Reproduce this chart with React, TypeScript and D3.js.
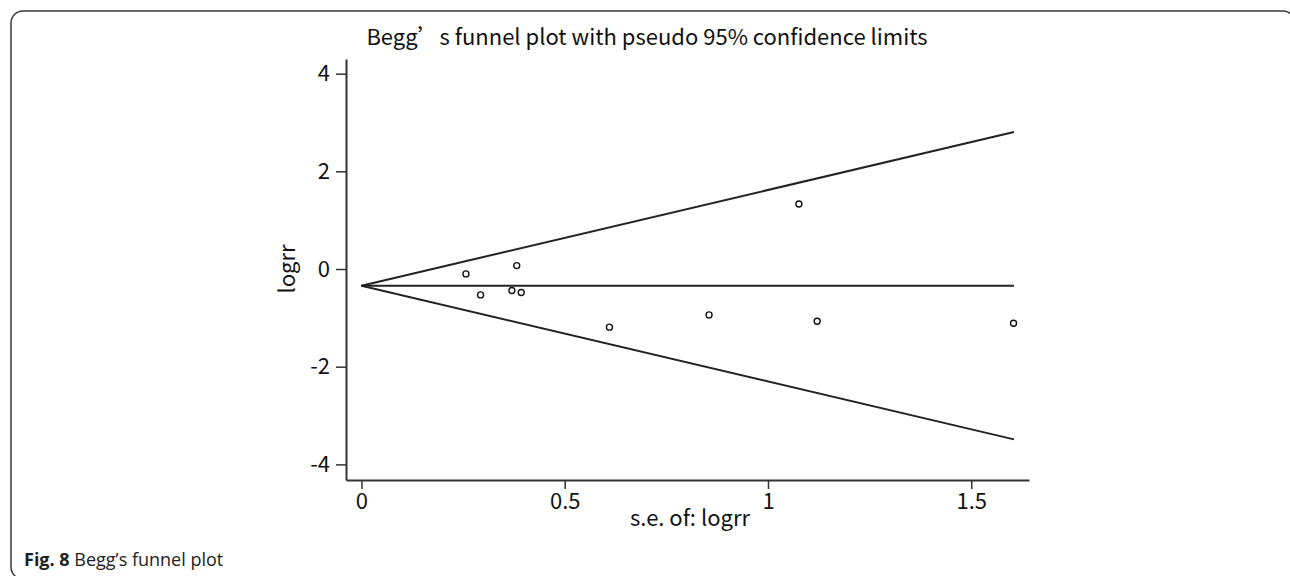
import * as d3 from 'd3';
import { useEffect, useRef } from 'react';

// study standard errors and log risk ratios
const seValues = [0.257, 0.293, 0.382, 0.370, 0.393, 0.61, 0.855, 1.076, 1.121, 1.604];
const logrrValues = [-0.10, -0.53, 0.07, -0.44, -0.48, -1.19, -0.94, 1.33, -1.07, -1.11];

// pooled estimate line and pseudo 95% limits (end points)
const pooledLine = [[0, -0.342], [1.605, -0.342]];
const upperLimit = [[0, -0.342], [1.605, 2.804]];
const lowerLimit = [[0, -0.342], [1.605, -3.488]];

const xTicks = [0, 0.5, 1, 1.5];
const yTicks = [-4, -2, 0, 2, 4];

const plotFont = '"Noto Sans CJK SC", "Noto Sans", sans-serif';

function App() {
    const ref = useRef<SVGSVGElement>(null);

    useEffect(() => {
        const svg = d3.select(ref.current);
        svg.selectAll('*').remove();

        // figure frame
        svg.append('rect')
            .attr('x', 11).attr('y', 11)
            .attr('width', 1284).attr('height', 568)
            .attr('rx', 12)
            .attr('fill', 'none')
            .attr('stroke', '#3a3a3a')
            .attr('stroke-width', 1.5);

        const xScale = d3.scaleLinear().domain([-0.038, 1.642]).range([346, 1029]);
        const yScale = d3.scaleLinear().domain([-4.32, 4.30]).range([480, 59]);

        const xAxis = d3.axisBottom(xScale)
            .tickValues(xTicks)
            .tickSizeInner(9)
            .tickSizeOuter(0)
            .tickPadding(4)
            .tickFormat(d => String(d));
        const gx = svg.append('g')
            .attr('transform', `translate(0, ${yScale(-4.32)})`)
            .call(xAxis);

        const yAxis = d3.axisLeft(yScale)
            .tickValues(yTicks)
            .tickSizeInner(10)
            .tickSizeOuter(0)
            .tickPadding(6)
            .tickFormat(d => String(d));
        const gy = svg.append('g')
            .attr('transform', `translate(${xScale(-0.038)}, 0)`)
            .call(yAxis);

        [gx, gy].forEach(g => {
            g.select('.domain').attr('stroke', '#333').attr('stroke-width', 2);
            g.selectAll('.tick line').attr('stroke', '#333').attr('stroke-width', 1.5);
            g.selectAll('.tick text')
                .attr('fill', '#111')
                .style('font-family', plotFont)
                .style('font-size', '22px');
        });
        gx.selectAll('.tick text').attr('dy', '0.71em');

        const line = d3.line<number[]>()
            .x(d => xScale(d[0]))
            .y(d => yScale(d[1]));

        [upperLimit, lowerLimit, pooledLine].forEach(pts => {
            svg.append('path')
                .datum(pts)
                .attr('fill', 'none')
                .attr('stroke', '#222')
                .attr('stroke-width', 2)
                .attr('d', line);
        });

        svg.append('g')
            .selectAll('circle')
            .data(seValues.map((s, i) => [s, logrrValues[i]]))
            .join('circle')
            .attr('cx', d => xScale(d[0]))
            .attr('cy', d => yScale(d[1]))
            .attr('r', 3)
            .attr('fill', 'white')
            .attr('stroke', '#111')
            .attr('stroke-width', 1.4);

        svg.append('text')
            .attr('x', 647)
            .attr('y', 45)
            .attr('text-anchor', 'middle')
            .style('font-family', plotFont)
            .style('font-size', '22px')
            .attr('fill', '#111')
            .text('Begg’s funnel plot with pseudo 95% confidence limits');

        svg.append('text')
            .attr('transform', 'rotate(-90)')
            .attr('x', -269)
            .attr('y', 295)
            .attr('text-anchor', 'middle')
            .style('font-family', plotFont)
            .style('font-size', '22px')
            .attr('fill', '#111')
            .text('logrr');

        svg.append('text')
            .attr('x', 690)
            .attr('y', 526)
            .attr('text-anchor', 'middle')
            .style('font-family', plotFont)
            .style('font-size', '22px')
            .attr('fill', '#111')
            .text('s.e. of: logrr');

        const caption = svg.append('text')
            .attr('x', 24)
            .attr('y', 566)
            .style('font-family', '"Open Sans", sans-serif')
            .style('font-size', '18px')
            .attr('fill', '#222');
        caption.append('tspan').attr('font-weight', 'bold').text('Fig. 8');
        caption.append('tspan').text(' Begg’s funnel plot');
    }, []);

    return (
        <svg ref={ref} width={1290} height={576}
            style={{ position: 'absolute', left: 0, top: 0, background: 'white' }} />
    );
}

export default App;
